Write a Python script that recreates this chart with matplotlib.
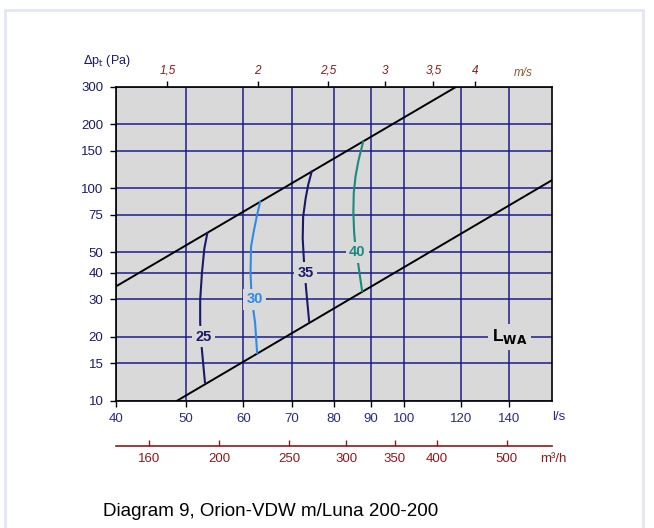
import numpy as np
import matplotlib.pyplot as plt
from matplotlib.ticker import FixedLocator, NullLocator, FixedFormatter
from matplotlib.patches import Rectangle

plt.rcParams['font.family'] = ['Liberation Sans', 'DejaVu Sans']

# axis ticks
x_ticks = [40, 50, 60, 70, 80, 90, 100, 120, 140]
y_ticks = [10, 15, 20, 30, 40, 50, 75, 100, 150, 200, 300]
v_ticks = [1.5, 2, 2.5, 3, 3.5, 4]
v_labels = ['1,5', '2', '2,5', '3', '3,5', '4']
m3h_ticks = [160, 200, 250, 300, 350, 400, 500]

# system lines (l/s, Pa)
upper_q = [40, 118.3]
upper_p = [34.5, 300]
lower_q = [48.6, 160.4]
lower_p = [10, 109]

# sound power curves L_WA
q25 = [53.5, 53.0, 52.6, 52.3, 52.3, 52.5, 52.8, 53.1]
p25 = [61.3, 52.0, 40.0, 29.8, 23.2, 18.5, 15.0, 12.2]
q30 = [63.3, 62.6, 62.0, 61.5, 61.4, 61.6, 62.3, 62.7]
p30 = [86.3, 73.0, 62.0, 53.0, 40.0, 30.8, 23.2, 16.8]
q35 = [74.6, 73.8, 73.2, 72.6, 72.5, 72.8, 73.3, 74.0]
p35 = [119.5, 104.0, 90.0, 73.4, 58.0, 45.0, 33.4, 23.6]
q40 = [87.9, 86.6, 85.8, 85.3, 85.2, 85.4, 85.8, 86.5, 87.6]
p40 = [165.3, 135.0, 114.0, 95.0, 77.0, 62.0, 52.0, 44.3, 32.8]

curves = [
    ('25', q25, p25, '#1a1a66', 52.8, 20),
    ('30', q30, p30, '#2b8ce8', 62.2, 30),
    ('35', q35, p35, '#1a1a66', 73.2, 40),
    ('40', q40, p40, '#1a8a80', 86.3, 50),
]

bg = '#d9d9d9'
grid_c = '#1c1c8c'
red = '#8b1a1a'

fig = plt.figure(figsize=(6.54, 5.28), dpi=100)
fig.patches.append(Rectangle((5 / 654, -0.1), 638 / 654, 1.1 - 10 / 528,
                             transform=fig.transFigure, fill=False,
                             edgecolor='#e3e7f4', lw=2))

ax = fig.add_axes([116 / 654, (528 - 400.7) / 528, 436 / 654, 314 / 528])
ax.set_facecolor(bg)
ax.set_xscale('log')
ax.set_yscale('log')
ax.set_xlim(40, 160.4)
ax.set_ylim(10, 300)

ax.xaxis.set_major_locator(FixedLocator(x_ticks))
ax.xaxis.set_major_formatter(FixedFormatter([str(t) for t in x_ticks]))
ax.xaxis.set_minor_locator(NullLocator())
ax.yaxis.set_major_locator(FixedLocator(y_ticks))
ax.yaxis.set_major_formatter(FixedFormatter([str(t) for t in y_ticks]))
ax.yaxis.set_minor_locator(NullLocator())

ax.tick_params(axis='x', colors='black', labelcolor='#2a2a8a', labelsize=9.5,
               length=4, width=1, pad=5)
ax.tick_params(axis='y', colors='black', labelcolor='#1a1a6e', labelsize=9.5,
               length=4, width=1, pad=5)
for s in ax.spines.values():
    s.set_linewidth(1.2)

ax.set_axisbelow(True)
ax.grid(True, color=grid_c, lw=1.1)

ax.plot(upper_q, upper_p, color='black', lw=1.4, zorder=3)
ax.plot(lower_q, lower_p, color='black', lw=1.4, zorder=3)

for lab, q, p, c, lq, lp in curves:
    ax.plot(q, p, color=c, lw=1.5, zorder=3)
    ax.text(lq, lp, lab, color=c, fontsize=10.5, fontweight='bold',
            ha='center', va='center', zorder=5,
            bbox=dict(facecolor=bg, edgecolor='none', pad=2.5))

ax.text(140, 20, r'L$_{\mathbf{WA}}$', color='black', fontsize=12.5,
        fontweight='bold', ha='center', va='center', zorder=5,
        bbox=dict(facecolor=bg, edgecolor='none', pad=2.5))

# top axis: velocity
top = ax.secondary_xaxis('top', functions=(lambda q: q / 31.416, lambda v: v * 31.416))
top.xaxis.set_major_locator(FixedLocator(v_ticks))
top.xaxis.set_major_formatter(FixedFormatter(v_labels))
top.xaxis.set_minor_locator(NullLocator())
top.tick_params(colors='black', labelcolor=red, labelsize=8.5, length=4.5,
                width=1, pad=2.5)
for t in top.get_xticklabels():
    t.set_fontstyle('italic')
top.spines['top'].set_visible(False)

# bottom axis: m3/h
bot = ax.secondary_xaxis(-0.143, functions=(lambda q: q * 3.6, lambda m: m / 3.6))
bot.xaxis.set_major_locator(FixedLocator(m3h_ticks))
bot.xaxis.set_major_formatter(FixedFormatter([str(t) for t in m3h_ticks]))
bot.xaxis.set_minor_locator(NullLocator())
bot.tick_params(direction='in', colors=red, labelcolor=red, labelsize=9.5,
                length=4, width=1, pad=5)
bot.spines['bottom'].set_color(red)
bot.spines['bottom'].set_linewidth(1.2)

fig.text(83 / 654, 1 - 61 / 528, r'$\Delta$p$_\mathrm{t}$ (Pa)', color='#1a1a6e',
         fontsize=9, ha='left', va='center')
fig.text(514 / 654, 1 - 73 / 528, 'm/s', color='#8b5a2b', fontsize=8.5,
         style='italic', ha='left', va='center')
fig.text(552 / 654, 1 - 417.5 / 528, 'l/s', color='#2a2a8a', fontsize=9.5,
         ha='left', va='center')
fig.text(540 / 654, 1 - 459 / 528, 'm³/h', color=red, fontsize=9.5,
         ha='left', va='center')

fig.text(103 / 654, 1 - 512 / 528, 'Diagram 9, Orion-VDW m/Luna 200-200',
         color='black', fontsize=13.5, ha='left', va='center')

fig.savefig('out.png', dpi=100)
